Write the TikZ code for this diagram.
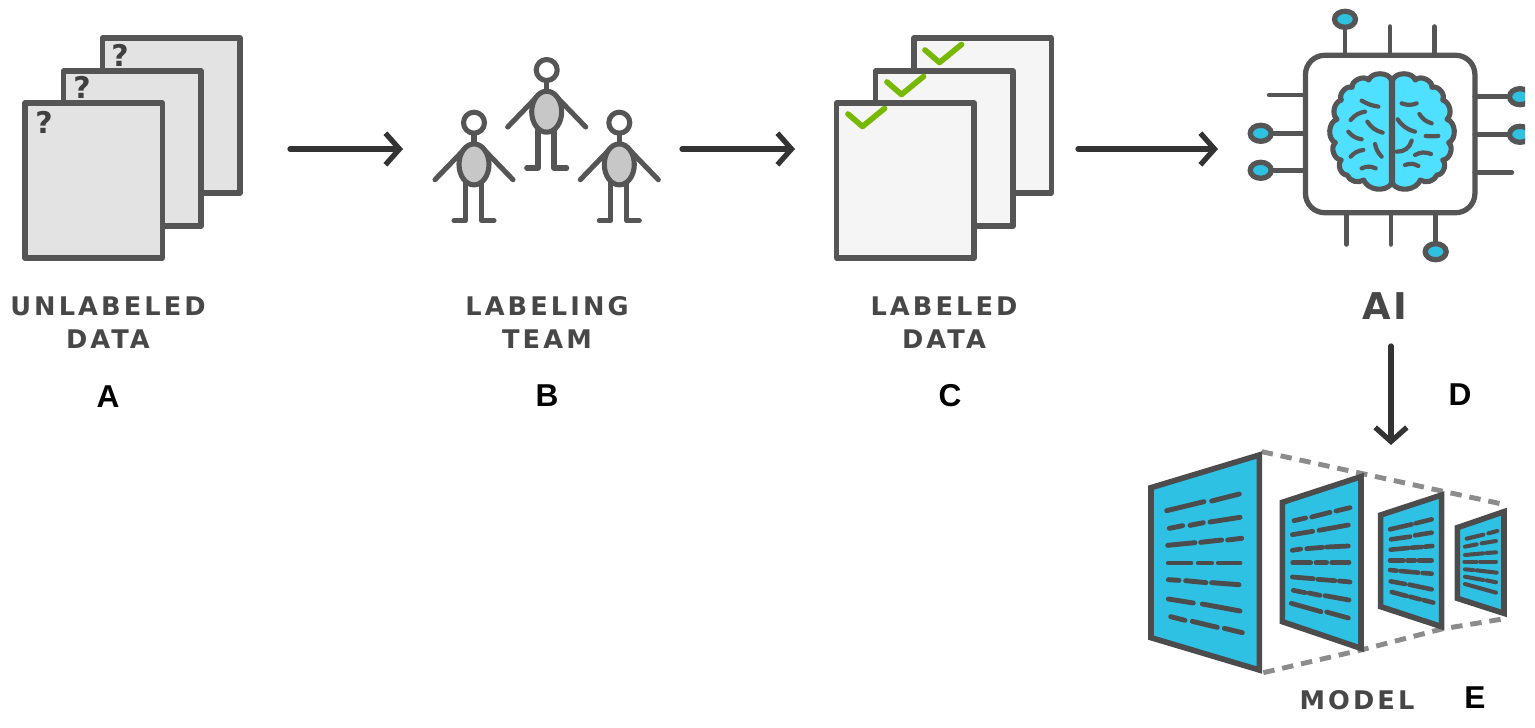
\documentclass[tikz,border=0pt]{standalone}
\usepackage{fontspec}
\setmainfont{Liberation Sans}
\newfontfamily\capsfont[LetterSpace=12]{DejaVu Sans}
\newfontfamily\aifont[LetterSpace=6]{DejaVu Sans}
\newfontfamily\qfont{DejaVu Sans}
\usetikzlibrary{arrows.meta,shapes.geometric}
\definecolor{edge}{HTML}{555555}
\definecolor{arrowink}{HTML}{333333}
\definecolor{padcyan}{HTML}{2FC1E0}
\definecolor{braincyan}{HTML}{4FDFFF}
\definecolor{panelblue}{HTML}{2FC1E3}
\definecolor{checkgreen}{HTML}{76B900}
\tikzset{
  sheet/.style={draw=edge,line width=3.1pt,line join=round},
  flow/.style={draw=arrowink,line width=3pt,line cap=round,-{Straight Barb[length=8pt,width=18pt,line width=3pt]}},
  caption/.style={font=\capsfont\bfseries\fontsize{14.6}{18.7}\selectfont,text=black!72,align=center,inner sep=0pt},
  letter/.style={font=\bfseries\fontsize{18}{20}\selectfont,inner sep=0pt},
  query/.style={font=\qfont\bfseries\fontsize{17}{18}\selectfont,text=black!75,inner sep=0pt},
  tick/.style={draw=checkgreen,line width=3.2pt,line cap=round,line join=round},
  wire/.style={draw=edge,line width=2.8pt,line cap=round},
  pad/.style={ellipse,draw=edge,fill=padcyan,line width=3pt,minimum width=0.42cm,minimum height=0.32cm,inner sep=0pt},
  crease/.style={draw=edge,line width=2.4pt,line cap=round},
  panel/.style={draw=black!70,fill=panelblue,line width=3.2pt,line join=miter},
  textline/.style={draw=black!70,line cap=round},
  ghost/.style={draw=black!45,line width=2.8pt,dash pattern=on 6.5pt off 4.5pt}
}
\begin{document}
\begin{tikzpicture}[x=0.02cm,y=-0.02cm]
  \useasboundingbox (0,0) rectangle (1535,727);
  % unlabeled pages
  \foreach \xo/\yo in {102.5/38, 63.5/71, 25/103} {
    \draw[sheet,fill=black!11] (\xo,\yo) rectangle ++(137.5,155);
  }
  \node[query] (qback) at (120,55) {?};
  \node[query] (qmid) at (82,87) {?};
  \node[query] (qfront) at (44,122) {?};
  % labeling team
  \foreach \px/\py in {546.7/70, 474/122.7, 619.3/122.7} {
    \begin{scope}[shift={(\px,\py)},sheet,line width=2.9pt,line cap=round]
      \draw (0,10.5) -- (0,22);
      \draw (-11,28) -- (-39,57);
      \draw (11,28) -- (39,57);
      \draw (-8.7,60) -- (-8.7,98) -- (-20,98);
      \draw (7.3,60) -- (7.3,98) -- (20,98);
      \draw[fill=white] (0,0) circle (10.5);
      \draw[fill=black!22] (0,41.7) ellipse (15 and 20.5);
    \end{scope}
  }
  % labeled pages
  \foreach \xo/\yo in {914/38, 875.5/71, 836.5/103} {
    \draw[sheet,fill=black!4] (\xo,\yo) rectangle ++(137.5,155);
  }
  \foreach \cx/\cy in {925/50, 887/82, 848/114} {
    \draw[tick] (\cx,\cy) -- ++(14.5,12.5) -- ++(22,-18);
  }
  % chip and pins
  \node[draw=edge,fill=white,line width=3pt,rounded corners=11pt,minimum width=3.39cm,minimum height=3.15cm,inner sep=0pt,outer sep=0pt] (chip) at (1390.2,134) {};
  \node[pad] (padtop) at (1345,19.3) {};
  \node[pad] (padbot) at (1435.7,251.7) {};
  \node[pad] (padla) at (1260.7,133.3) {};
  \node[pad] (padlb) at (1260.7,170.3) {};
  \draw[wire] (padtop) -- (padtop |- chip.north);
  \draw[wire] (padbot) -- (padbot |- chip.south);
  \draw[wire] (padla) -- (padla -| chip.west);
  \draw[wire] (padlb) -- (padlb -| chip.west);
  \begin{scope}
    \clip (1400,0) rectangle (1525,300);
    \node[pad] (padra) at (1520,96.7) {};
    \node[pad] (padrb) at (1520,134.3) {};
    \draw[wire] (padra) -- (padra -| chip.east);
    \draw[wire] (padrb) -- (padrb -| chip.east);
  \end{scope}
  \coordinate (pinta) at (1390,26.7);
  \coordinate (pintb) at (1434.3,26.7);
  \coordinate (pinba) at (1346.3,244.3);
  \coordinate (pinbb) at (1391,244.3);
  \coordinate (pinl) at (1269.3,95);
  \coordinate (pinr) at (1511.7,172.3);
  \draw[wire] (pinta) -- (pinta |- chip.north);
  \draw[wire] (pintb) -- (pintb |- chip.north);
  \draw[wire] (pinba) -- (pinba |- chip.south);
  \draw[wire] (pinbb) -- (pinbb |- chip.south);
  \draw[wire] (pinl) -- (pinl -| chip.west);
  \draw[wire] (pinr) -- (pinr -| chip.east);
  % brain, in crop units (3 per pixel)
  \begin{scope}[shift={(1230,0)},scale=1/3]
    \foreach \sgn in {1,-1} {
      \begin{scope}[shift={(486,0)},xscale=\sgn]
        \draw[draw=edge,fill=braincyan,line width=2.9pt,line join=round]
          (-2,240) to[bend right=70] (-70,240) to[bend right=70] (-120,262)
          to[bend right=70] (-152,300) to[bend right=60] (-165,358)
          to[bend right=70] (-170,428) to[bend right=70] (-152,480)
          to[bend right=70] (-135,525) to[bend right=50] (-85,540)
          to[bend right=60] (-2,552) -- cycle;
      \end{scope}
    }
    \foreach \xa/\ya/\xb/\yb/\bnd in {395/302/445/320/10, 362/360/405/335/-20, 412/365/458/398/20,
      355/395/395/418/20, 362/470/400/450/-20, 435/432/455/470/15, 395/505/437/505/-25,
      515/310/560/310/20, 568/342/605/370/20, 503/358/555/395/20, 587/408/625/408/5,
      500/455/545/422/40, 555/465/603/462/-25, 525/495/565/498/-25} {
      \draw[crease] (\xa,\ya) to[bend right=\bnd] (\xb,\yb);
    }
  \end{scope}
  % model panels, in crop units
  \begin{scope}[shift={(1130,430)},scale=1/3]
    \draw[ghost] (395,65) -- (693,130) -- (935,183) -- (1130,225);
    \draw[ghost] (400,728) -- (693,660) -- (935,597) -- (1130,565);
    \draw[panel] (63,173) -- (388,75) -- (388,720) -- (63,623) -- cycle;
    \draw[panel] (457,217) -- (693,140) -- (693,655) -- (457,575) -- cycle;
    \draw[panel] (752,255) -- (935,195) -- (935,590) -- (752,530) -- cycle;
    \draw[panel] (982,293) -- (1122,245) -- (1122,550) -- (982,505) -- cycle;
    \foreach \xa/\ya/\xb/\yb in {110/242/222/215, 245/213/328/192,
      118/295/158/287, 180/286/220/278, 240/276/330/262,
      113/346/195/338, 212/337/275/330, 293/330/335/325,
      115/399/183/399, 205/399/245/399, 265/399/330/399,
      115/449/147/451, 167/452/228/458, 245/458/327/464,
      115/507/190/519, 217/522/330/543,
      122/560/165/571, 187/574/262/592, 283/595/337/608} {
      \draw[textline,line width=2.8pt] (\xa,\ya) -- (\xb,\yb);
    }
    \foreach \xa/\ya/\xb/\yb in {492/272/527/264, 545/261/600/247, 618/243/660/233,
      487/314/548/304, 567/301/655/285,
      487/361/512/357, 530/356/578/352, 590/351/655/348,
      488/398/542/398, 558/398/590/398, 605/398/657/398,
      487/441/550/446, 563/448/615/452, 628/453/660/456,
      490/481/525/488, 537/489/570/496, 585/497/657/510,
      484/520/573/545, 590/546/655/564} {
      \draw[textline,line width=2.7pt] (\xa,\ya) -- (\xb,\yb);
    }
    \foreach \xa/\ya/\xb/\yb in {780/298/845/283, 857/280/905/268,
      783/328/840/320, 855/316/905/308,
      782/359/835/354, 845/353/875/351, 885/350/907/348,
      780/391/820/391, 832/391/855/391, 867/391/905/391,
      780/420/800/422, 812/423/865/428, 878/429/905/431,
      782/454/825/462, 838/464/905/478,
      785/486/830/498, 840/500/870/508, 880/510/910/518} {
      \draw[textline,line width=2.6pt] (\xa,\ya) -- (\xb,\yb);
    }
    \foreach \xa/\ya/\xb/\yb in {1010/326/1060/314, 1075/310/1102/303,
      1005/350/1040/343, 1055/340/1098/333,
      1005/375/1060/370, 1070/369/1098/367,
      1003/395/1040/395, 1050/395/1098/395,
      1005/418/1030/420, 1040/421/1100/428,
      1005/440/1060/450, 1070/451/1098/457,
      1005/462/1098/488} {
      \draw[textline,line width=2.3pt] (\xa,\ya) -- (\xb,\yb);
    }
  \end{scope}
  % arrows
  \coordinate (flowa) at (290,149);
  \coordinate (flowb) at (403,149);
  \coordinate (flowc) at (682,149);
  \coordinate (flowd) at (795,149);
  \coordinate (flowe) at (1078,149);
  \coordinate (flowf) at (1218,149);
  \coordinate (flowg) at (1391,346);
  \coordinate (flowh) at (1391,445);
  \draw[flow] (flowa) -- (flowb);
  \draw[flow] (flowc) -- (flowd);
  \draw[flow] (flowe) -- (flowf);
  \draw[flow] (flowg) -- (flowh);
  % captions
  \node[caption] (capa) at (108,322.5) {UNLABELED\\DATA};
  \node[caption] (capb) at (547,322.5) {LABELING\\TEAM};
  \node[caption] (capc) at (944,322.5) {LABELED\\DATA};
  \node[caption,font=\aifont\bfseries\fontsize{21}{24}\selectfont] (capd) at (1385,306) {AI};
  \node[caption] (cape) at (1357,700) {MODEL};
  \node[letter] (la) at (108,397) {A};
  \node[letter] (lb) at (547,396) {B};
  \node[letter] (lc) at (950,396) {C};
  \node[letter] (ld) at (1460,395) {D};
  \node[letter] (le) at (1475,698) {E};
\end{tikzpicture}
\end{document}
